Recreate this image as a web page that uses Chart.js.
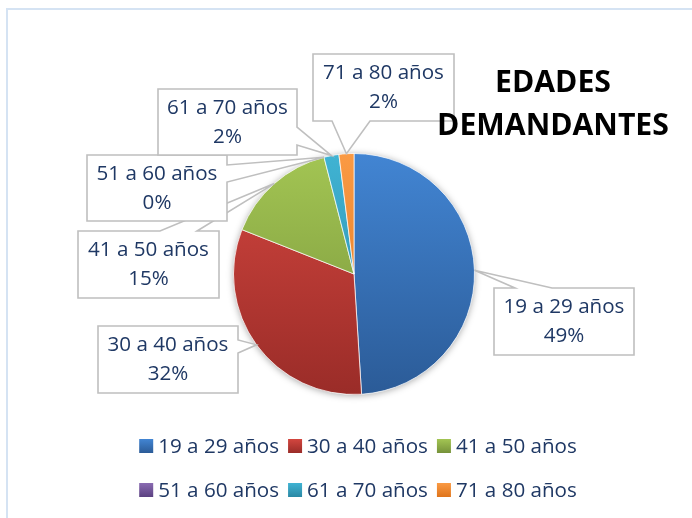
<!DOCTYPE html>
<html lang="es">
<head>
<meta charset="utf-8">
<title>Edades demandantes</title>
<script src="https://cdn.jsdelivr.net/npm/chart.js@4.4.0/dist/chart.umd.min.js"></script>
<style>
    html, body { margin: 0; padding: 0; background: #ffffff; }
    body { width: 692px; height: 518px; position: relative; overflow: hidden; }
    .frame {
        position: absolute; left: 6px; top: 8px; width: 720px; height: 540px;
        border-left: 2px solid #d5e3f3; border-top: 2px solid #d5e3f3;
    }
    #wrap { position: absolute; left: 0; top: 0; width: 692px; height: 518px; }
</style>
</head>
<body>
<div class="frame"></div>
<div id="wrap"><canvas id="agesChart"></canvas></div>
<script>
// Datos del gráfico
const categories = ['19 a 29 años', '30 a 40 años', '41 a 50 años', '51 a 60 años', '61 a 70 años', '71 a 80 años'];
const shares = [49, 32, 15, 0, 2, 2];
const chartTitle = ['EDADES', 'DEMANDANTES'];

// Colores (degradado de arriba hacia abajo, estilo Office)
const sliceTop = ['#4285d3', '#d3463f', '#a3c553', '#8a6bb2', '#40b3d3', '#fa9a44'];
const sliceBottom = ['#2b5b97', '#9a2c28', '#76923a', '#5b4181', '#2a88a4', '#df741b'];

// Cajas de las etiquetas (posición de la caja y base del puntero)
const calloutBoxes = [
    { x: 494, y: 288, w: 140, h: 67, edge: 'top', from: 515, to: 552 },
    { x: 98, y: 326, w: 140, h: 67, edge: 'right', from: 340, to: 353 },
    { x: 78, y: 231, w: 141, h: 67, edge: 'top', from: 160, to: 197 },
    { x: 87, y: 155, w: 140, h: 66, edge: 'right', from: 165, to: 182 },
    { x: 158, y: 89, w: 139, h: 66, edge: 'right', from: 127, to: 145 },
    { x: 313, y: 54, w: 141, h: 67, edge: 'bottom', from: 332, to: 370 }
];

const textColor = '#1f3864';
const labelFont = '"Open Sans", "Noto Sans", sans-serif';

function verticalGradient(ctx, top, bottom, i) {
    const g = ctx.createLinearGradient(0, top, 0, bottom);
    g.addColorStop(0, sliceTop[i]);
    g.addColorStop(1, sliceBottom[i]);
    return g;
}

// Sombra suave bajo el pastel
const pieShadow = {
    id: 'pieShadow',
    beforeDatasetsDraw(chart) {
        const arc = chart.getDatasetMeta(0).data[0];
        if (!arc) return;
        const ctx = chart.ctx;
        ctx.save();
        ctx.shadowColor = 'rgba(0,0,0,0.35)';
        ctx.shadowBlur = 7;
        ctx.shadowOffsetX = 0;
        ctx.shadowOffsetY = 1;
        ctx.fillStyle = '#ffffff';
        ctx.beginPath();
        ctx.arc(arc.x, arc.y, arc.outerRadius, 0, Math.PI * 2);
        ctx.fill();
        ctx.restore();
    }
};

// Etiquetas con caja y puntero
const callouts = {
    id: 'callouts',
    afterDraw(chart) {
        const ctx = chart.ctx;
        const meta = chart.getDatasetMeta(0);
        const total = shares.reduce((a, b) => a + b, 0);
        meta.data.forEach((arc, i) => {
            const b = calloutBoxes[i];
            const mid = (arc.startAngle + arc.endAngle) / 2;
            const tx = arc.x + Math.cos(mid) * arc.outerRadius;
            const ty = arc.y + Math.sin(mid) * arc.outerRadius;
            const r = b.x + b.w, btm = b.y + b.h;

            ctx.save();
            ctx.beginPath();
            ctx.moveTo(b.x, b.y);
            if (b.edge === 'top') { ctx.lineTo(b.from, b.y); ctx.lineTo(tx, ty); ctx.lineTo(b.to, b.y); }
            ctx.lineTo(r, b.y);
            if (b.edge === 'right') { ctx.lineTo(r, b.from); ctx.lineTo(tx, ty); ctx.lineTo(r, b.to); }
            ctx.lineTo(r, btm);
            if (b.edge === 'bottom') { ctx.lineTo(b.to, btm); ctx.lineTo(tx, ty); ctx.lineTo(b.from, btm); }
            ctx.lineTo(b.x, btm);
            ctx.closePath();
            ctx.fillStyle = '#ffffff';
            ctx.fill();
            ctx.strokeStyle = '#bfbfbf';
            ctx.lineWidth = 1.6;
            ctx.stroke();

            ctx.fillStyle = textColor;
            ctx.font = '20.6px ' + labelFont;
            ctx.textAlign = 'center';
            ctx.textBaseline = 'middle';
            const cx = b.x + b.w / 2, cy = b.y + b.h / 2;
            ctx.fillText(categories[i], cx, cy - 14);
            ctx.fillText(Math.round(shares[i] / total * 100) + '%', cx, cy + 15);
            ctx.restore();
        });
    }
};

// Título y leyenda
const titleAndLegend = {
    id: 'titleAndLegend',
    afterDraw(chart) {
        const ctx = chart.ctx;
        ctx.save();
        // título
        ctx.font = 'bold 30px ' + labelFont;
        const size = 30 * 232 / ctx.measureText(chartTitle[1]).width;
        ctx.font = 'bold ' + size.toFixed(1) + 'px ' + labelFont;
        ctx.fillStyle = '#000000';
        ctx.textAlign = 'center';
        ctx.textBaseline = 'alphabetic';
        ctx.fillText(chartTitle[0], 553, 92);
        ctx.fillText(chartTitle[1], 553, 135);

        // leyenda en dos filas
        ctx.font = '20.6px ' + labelFont;
        ctx.textBaseline = 'middle';
        ctx.textAlign = 'left';
        const rows = [[0, 1, 2], [3, 4, 5]];
        const rowY = [446, 490];
        rows.forEach((row, r) => {
            const widths = row.map(i => 14 + 5 + ctx.measureText(categories[i]).width);
            const rowW = widths.reduce((a, b) => a + b, 0) + 9 * (row.length - 1);
            let x = 358 - rowW / 2;
            row.forEach((i, k) => {
                const y = rowY[r];
                ctx.fillStyle = verticalGradient(ctx, y - 7, y + 7, i);
                ctx.fillRect(x, y - 7, 14, 14);
                ctx.fillStyle = textColor;
                ctx.fillText(categories[i], x + 19, y + 1);
                x += widths[k] + 9;
            });
        });
        ctx.restore();
    }
};

const chart = new Chart(document.getElementById('agesChart'), {
    type: 'pie',
    data: {
        labels: categories,
        datasets: [{
            data: shares,
            backgroundColor: (c) => {
                const area = c.chart.chartArea;
                if (!area) return sliceTop[c.dataIndex];
                return verticalGradient(c.chart.ctx, area.top, area.bottom, c.dataIndex);
            },
            borderColor: 'rgba(255,255,255,0.7)',
            borderWidth: 1
        }]
    },
    options: {
        responsive: true,
        maintainAspectRatio: false,
        animation: false,
        layout: { padding: { left: 233, right: 217, top: 153, bottom: 123 } },
        plugins: {
            legend: { display: false },
            title: { display: false },
            tooltip: { enabled: false }
        }
    },
    plugins: [pieShadow, callouts, titleAndLegend]
});
</script>
</body>
</html>
